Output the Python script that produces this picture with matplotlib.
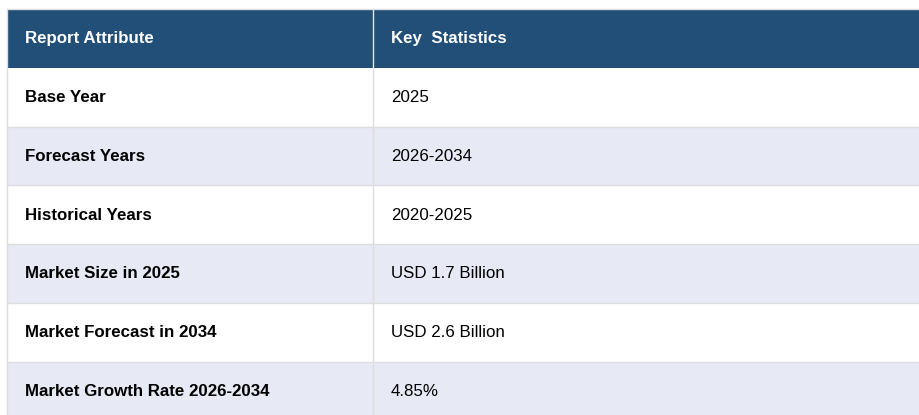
import matplotlib.pyplot as plt
import matplotlib.patches as ptc

attributes = ["Base Year", "Forecast Years", "Historical Years", "Market Size in 2025",
              "Market Forecast in 2034", "Market Growth Rate 2026-2034"]
statistics = ["2025", "2026-2034", "2020-2025", "USD 1.7 Billion",
              "USD 2.6 Billion", "4.85%"]
headers = ["Report Attribute", "Key  Statistics"]

W, H = 919, 415
LEFT, TOP = 7, 9
COL2 = 373
HEAD_H = 59
ROW_H = 58.7
FS = 12.15

HEAD_COL = '#214f78'
ALT_COL = '#e7e9f5'
LINE_COL = '#dddddd'

plt.rcParams['font.family'] = ['Liberation Sans', 'DejaVu Sans']

fig = plt.figure(figsize=(W / 100, H / 100), dpi=100)
ax = fig.add_axes([0, 0, 1, 1])
ax.set_xlim(0, W)
ax.set_ylim(H, 0)
ax.axis('off')

# header
ax.add_patch(ptc.Rectangle((LEFT, TOP), W - LEFT + 5, HEAD_H, color=HEAD_COL, lw=0))
ax.text(LEFT + 18, TOP + HEAD_H / 2 + 0.5, headers[0], color='white', fontsize=FS,
        fontweight='bold', va='center', ha='left')
ax.text(COL2 + 18, TOP + HEAD_H / 2 + 0.5, headers[1], color='white', fontsize=FS,
        fontweight='bold', va='center', ha='left')
ax.plot([COL2, COL2], [TOP, TOP + HEAD_H], color='#e8e8e8', lw=1)

for i, (a, s) in enumerate(zip(attributes, statistics)):
    y0 = TOP + HEAD_H + i * ROW_H
    fc = ALT_COL if i % 2 == 1 else 'white'
    ax.add_patch(ptc.Rectangle((LEFT, y0), W - LEFT + 5, ROW_H, color=fc, lw=0))
    ax.plot([LEFT, W], [y0 + ROW_H, y0 + ROW_H], color=LINE_COL, lw=1)
    ax.text(LEFT + 18, y0 + ROW_H / 2 + 0.5, a, color='black', fontsize=FS,
            fontweight='bold', va='center', ha='left')
    ax.text(COL2 + 18, y0 + ROW_H / 2 + 0.5, s, color='black', fontsize=FS,
            va='center', ha='left')

# borders
last = TOP + HEAD_H + len(attributes) * ROW_H
ax.plot([LEFT, LEFT], [TOP, last], color=LINE_COL, lw=1)
ax.plot([LEFT, W], [TOP, TOP], color=LINE_COL, lw=1)
ax.plot([COL2, COL2], [TOP + HEAD_H, last], color=LINE_COL, lw=1)

fig.savefig('out.png', dpi=100)
